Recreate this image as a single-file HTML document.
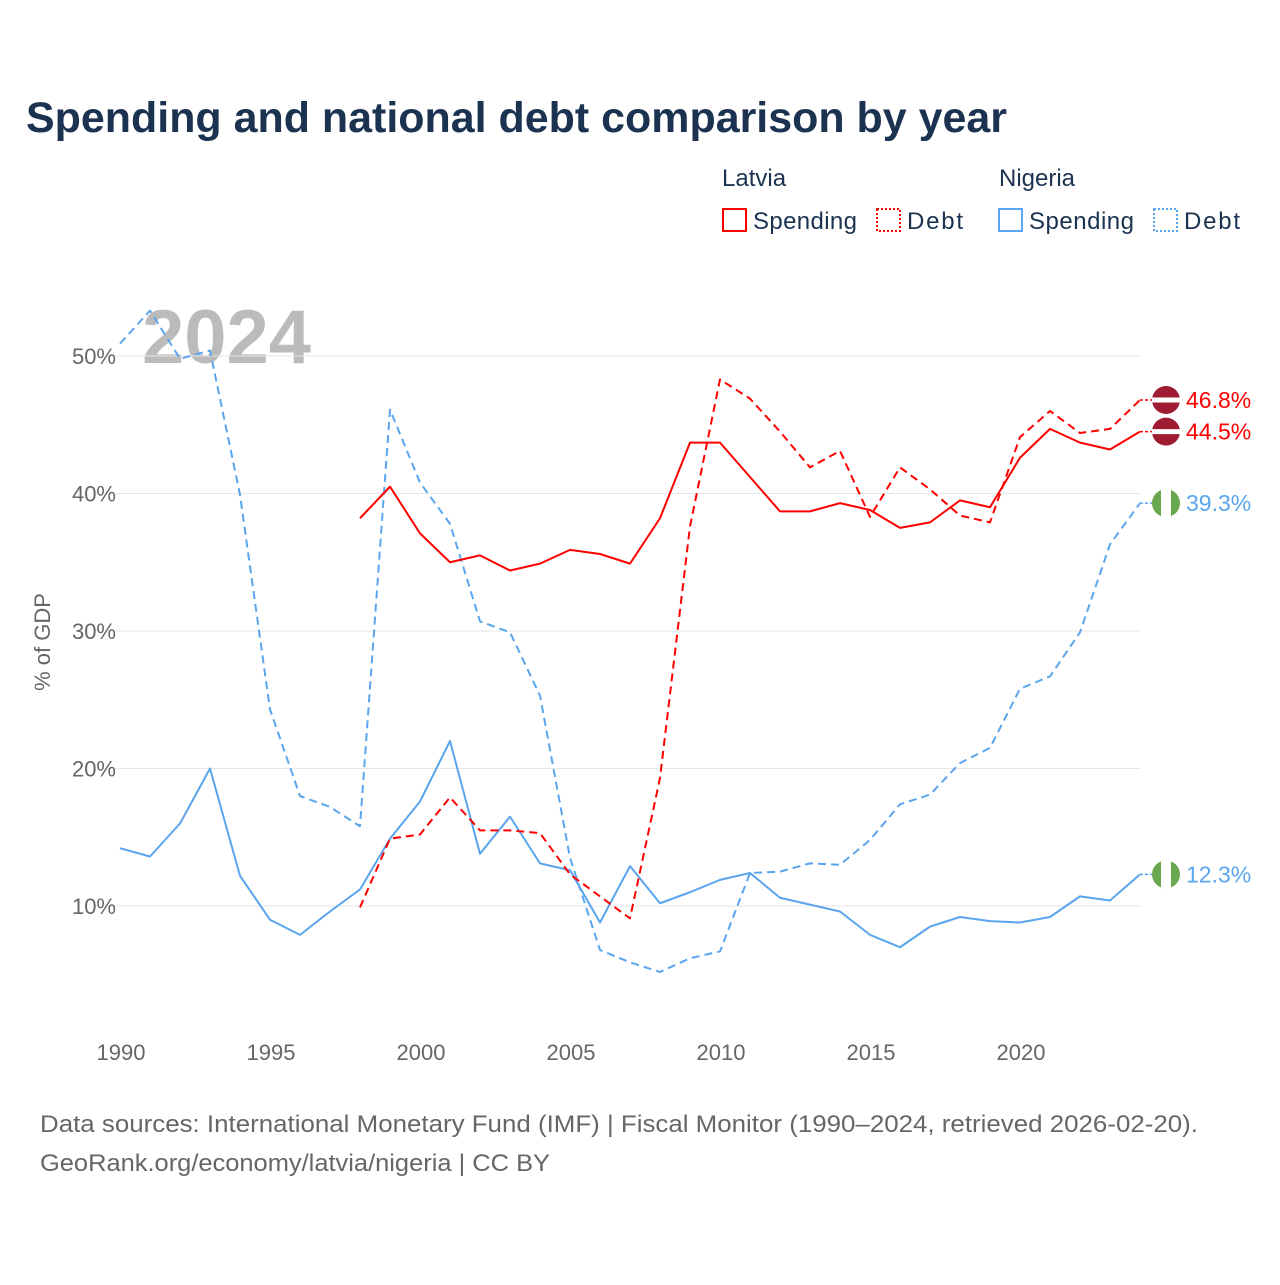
<!DOCTYPE html>
<html><head><meta charset="utf-8">
<style>
body{margin:0;background:#fff;font-family:"Liberation Sans",sans-serif;}
svg text{font-family:"Liberation Sans",sans-serif;}
</style></head>
<body>
<svg id="chart" width="1280" height="1280" viewBox="0 0 1280 1280" xmlns="http://www.w3.org/2000/svg">
<rect width="1280" height="1280" fill="#fff"/>
<text x="26" y="132" font-size="43" font-weight="bold" fill="#1b3350" textLength="981" lengthAdjust="spacingAndGlyphs">Spending and national debt comparison by year</text>
<g font-size="24" fill="#1b3350">
<text x="722" y="186" fill="#1b3350">Latvia</text>
<text x="999" y="186" fill="#1b3350">Nigeria</text>
<g><rect x="723" y="209" width="23" height="22" fill="none" stroke="#f00" stroke-width="2"/><text x="753" y="229" fill="#1b3350" textLength="104">Spending</text></g>
<g><rect x="877" y="209" width="23" height="22" fill="none" stroke="#f00" stroke-width="2" stroke-dasharray="2,2"/><text x="907" y="229" fill="#1b3350" textLength="56">Debt</text></g>
<g><rect x="999" y="209" width="23" height="22" fill="none" stroke="#5aa5ee" stroke-width="2"/><text x="1029" y="229" fill="#1b3350" textLength="105">Spending</text></g>
<g><rect x="1154" y="209" width="23" height="22" fill="none" stroke="#5aa5ee" stroke-width="2" stroke-dasharray="2,2"/><text x="1184" y="229" fill="#1b3350" textLength="56">Debt</text></g>
</g>
<text x="142" y="363" font-size="76" font-weight="bold" fill="#bbb">2024</text>
<text transform="translate(50,642) rotate(-90)" text-anchor="middle" font-size="22" fill="#666">% of GDP</text>
<g id="grid"></g><g id="series"></g><g id="ends"></g>
<text x="40" y="1132" font-size="24" fill="#666" textLength="1158" lengthAdjust="spacingAndGlyphs">Data sources: International Monetary Fund (IMF) | Fiscal Monitor (1990–2024, retrieved 2026-02-20).</text>
<text x="40" y="1171" font-size="24" fill="#666" textLength="510" lengthAdjust="spacingAndGlyphs">GeoRank.org/economy/latvia/nigeria | CC BY</text>
</svg>
<script>
const yTicks=[10,20,30,40,50];
const xTicks=[1990,1995,2000,2005,2010,2015,2020];
const ngYears=[1990,1991,1992,1993,1994,1995,1996,1997,1998,1999,2000,2001,2002,2003,2004,2005,2006,2007,2008,2009,2010,2011,2012,2013,2014,2015,2016,2017,2018,2019,2020,2021,2022,2023,2024];
const ngSpending=[14.2,13.6,16.0,20.0,12.2,9.0,7.9,9.6,11.2,14.9,17.6,22.0,13.8,16.5,13.1,12.6,8.8,12.9,10.2,11.0,11.9,12.4,10.6,10.1,9.6,7.9,7.0,8.5,9.2,8.9,8.8,9.2,10.7,10.4,12.3];
const ngDebt=[50.9,53.3,49.8,50.4,39.9,24.3,18.0,17.2,15.8,46.1,40.8,37.8,30.7,29.9,25.3,13.5,6.8,5.9,5.2,6.2,6.7,12.4,12.5,13.1,13.0,14.8,17.4,18.1,20.4,21.5,25.8,26.7,29.9,36.3,39.3];
const lvYears=[1998,1999,2000,2001,2002,2003,2004,2005,2006,2007,2008,2009,2010,2011,2012,2013,2014,2015,2016,2017,2018,2019,2020,2021,2022,2023,2024];
const lvSpending=[38.2,40.5,37.1,35.0,35.5,34.4,34.9,35.9,35.6,34.9,38.2,43.7,43.7,41.2,38.7,38.7,39.3,38.8,37.5,37.9,39.5,39.0,42.6,44.7,43.7,43.2,44.5];
const lvDebt=[9.9,14.9,15.2,17.9,15.5,15.5,15.3,12.3,10.7,9.1,19.3,37.6,48.3,46.9,44.5,41.9,43.1,38.3,41.9,40.3,38.4,37.9,44.1,46.0,44.4,44.7,46.8];

const NS="http://www.w3.org/2000/svg";
const X=yr=>120+(yr-1990)*30;
const Y=v=>906-(v-10)*13.75;
function mk(tag,attrs,parent){const e=document.createElementNS(NS,tag);for(const k in attrs)e.setAttribute(k,attrs[k]);parent.appendChild(e);return e;}
const grid=document.getElementById('grid');
yTicks.forEach(t=>{
 const l=mk('line',{x1:108,x2:1140,y1:Y(t),y2:Y(t),stroke:'#e6e6e6','stroke-width':1},grid);
 
 
 const tx=mk('text',{x:116,y:Y(t)+8,'text-anchor':'end','font-size':22,fill:'#666'},grid);
 tx.textContent=t+'%';
 
 
});
xTicks.forEach(t=>{
 const tx=mk('text',{x:X(t)+1,y:1060,'text-anchor':'middle','font-size':22,fill:'#666'},grid);
 tx.textContent=t;
 
 
});
const ser=document.getElementById('series');
function line(years,vals,color,dash,name){
 const d=years.map((y,i)=>(i?'L':'M')+X(y)+','+Y(vals[i])).join('');
 const p=mk('path',{d:d,fill:'none',stroke:color,'stroke-width':2,'stroke-dasharray':dash||'none','stroke-linejoin':'round'},ser);
 
 
}
line(ngYears,ngSpending,'#5aa5ee','', 'nigeria-spending-line');
line(ngYears,ngDebt,'#5aa5ee','8,5','nigeria-debt-line');
line(lvYears,lvSpending,'#f00','', 'latvia-spending-line');
line(lvYears,lvDebt,'#f00','8,5','latvia-debt-line');
const ends=document.getElementById('ends');
function endLabel(v,color,flag,name){
 const y=Y(v);
 mk('line',{x1:1140,x2:1152,y1:y,y2:y,stroke:color,'stroke-width':1.5,'stroke-dasharray':'3,2'},ends);
 const g=mk('g',{},ends);
 
 
 if(flag==='lv'){
  mk('circle',{cx:1166,cy:y,r:14,fill:'#9e1b32'},g);
  mk('rect',{x:1152,y:y-2.5,width:28,height:5,fill:'#fff'},g);
 }else{
  mk('circle',{cx:1166,cy:y,r:14,fill:'#6aa84f'},g);
  mk('rect',{x:1161,y:y-14,width:10,height:28,fill:'#fff'},g);
 }
 const t=mk('text',{x:1186,y:y+8,'font-size':23,fill:color},ends);
 t.textContent=v.toFixed(1)+'%';
 
 
}
endLabel(lvDebt[lvDebt.length-1],'#f00','lv','latvia-debt-end');
endLabel(lvSpending[lvSpending.length-1],'#f00','lv','latvia-spending-end');
endLabel(ngDebt[ngDebt.length-1],'#5aa5ee','ng','nigeria-debt-end');
endLabel(ngSpending[ngSpending.length-1],'#5aa5ee','ng','nigeria-spending-end');
</script>
</body></html>
